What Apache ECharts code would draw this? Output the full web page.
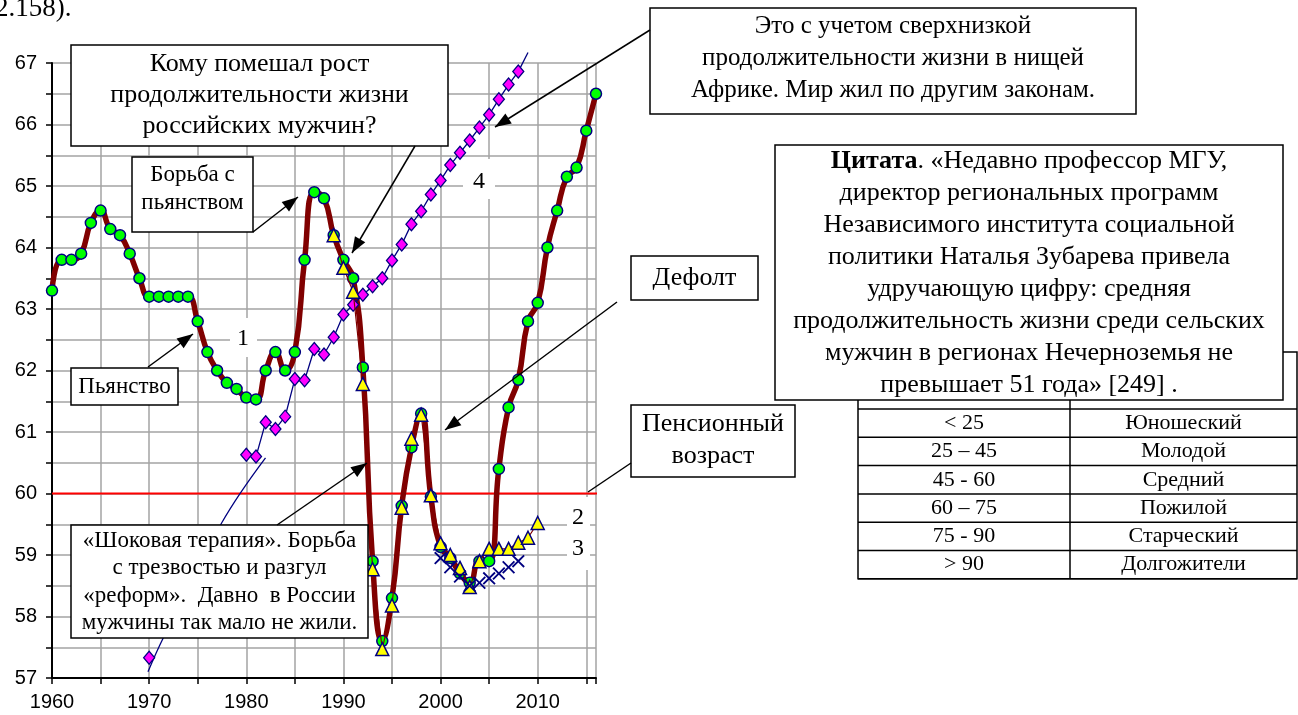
<!DOCTYPE html>
<html><head><meta charset="utf-8">
<script src="https://cdn.jsdelivr.net/npm/echarts@6/dist/echarts.min.js"></script>
<style>html,body{margin:0;padding:0;background:#fff}#c{width:1298px;height:715px}</style>
</head><body><div id="c"></div>
<script>
// ---- data ----
const years1 = [1960,1961,1962,1963,1964,1965,1966,1967,1968,1969,1970,1971,1972,1973,1974,1975,1976,1977,1978,1979,1980,1981,1982,1983,1984,1985,1986,1987,1988,1989,1990,1991,1992,1993,1994,1995,1996,1997,1998,1999,2000,2001,2002,2003,2004,2005,2006,2007,2008,2009,2010,2011,2012,2013,2014,2015,2016];
const maleLife = [63.3,63.8,63.8,63.9,64.4,64.6,64.3,64.2,63.9,63.5,63.2,63.2,63.2,63.2,63.2,62.8,62.3,62.0,61.8,61.7,61.56,61.53,62.0,62.3,62.0,62.3,63.8,64.9,64.8,64.2,63.8,63.5,62.05,58.9,57.6,58.3,59.8,60.75,61.3,59.95,59.13,58.95,58.7,58.55,58.9,58.9,60.4,61.4,61.85,62.8,63.1,64.0,64.6,65.15,65.3,65.9,66.5];
const years2 = [1989,1990,1991,1992,1993,1994,1995,1996,1997,1998,1999,2000,2001,2002,2003,2004,2005,2006,2007,2008,2009,2010];
const series2 = [64.2,63.67,63.28,61.78,58.77,57.47,58.18,59.77,60.89,61.28,59.97,59.19,59.0,58.79,58.48,58.9,59.1,59.1,59.1,59.2,59.28,59.52];
const years3 = [2000,2001,2002,2003,2004,2005,2006,2007,2008];
const series3 = [58.95,58.8,58.65,58.5,58.55,58.62,58.7,58.8,58.9];
const years4 = [1970,1980,1981,1982,1983,1984,1985,1986,1987,1988,1989,1990,1991,1992,1993,1994,1995,1996,1997,1998,1999,2000,2001,2002,2003,2004,2005,2006,2007,2008,2009];
const series4 = [57.33,60.63,60.6,61.16,61.05,61.25,61.86,61.84,62.35,62.26,62.54,62.91,63.07,63.23,63.37,63.5,63.79,64.05,64.38,64.59,64.86,65.09,65.34,65.54,65.74,65.95,66.16,66.41,66.65,66.86,67.17];
const trendYears = [1969.88,1971.45,1977.46,1981.98];
const trendVals = [57.10,57.65,59.52,60.58];
const pensionYears = [1960,2016.4];
const pensionVals = [60,60];
const ageRanges = ['< 25','25 – 45','45 - 60','60 – 75','75 - 90','> 90'];
const ageNames = ['Юношеский','Молодой','Средний','Пожилой','Старческий','Долгожители'];

// ---- texts ----
const tTop = '2.158).';
const tWho = 'Кому помешал рост\nпродолжительности жизни\nроссийских мужчин?';
const tFight = 'Борьба с\nпьянством';
const tDrunk = 'Пьянство';
const tShock = '«Шоковая терапия». Борьба\nс трезвостью и разгул\n«реформ».  Давно  в России\nмужчины так мало не жили.';
const tAfrica = 'Это с учетом сверхнизкой\nпродолжительности жизни в нищей\nАфрике. Мир жил по другим законам.';
const tQuote = '{b|Цитата}. «Недавно профессор МГУ,\nдиректор региональных программ\nНезависимого института социальной\nполитики Наталья Зубарева привела\nудручающую цифру: средняя\nпродолжительность жизни среди сельских\nмужчин в регионах Нечерноземья не\nпревышает 51 года» [249] .';
const tDefault = 'Дефолт';
const tPension = 'Пенсионный\nвозраст';

// ---- helpers ----
const SERIF = '"Liberation Serif","Times New Roman",serif';
function zip(xs, ys){ return xs.map((x,i)=>[x, ys[i]]); }
function box(x,y,w,h){ return {type:'rect', shape:{x:x,y:y,width:w,height:h}, style:{fill:'#fff', stroke:'#000', lineWidth:1.5}, z:100}; }
function wbox(x,y,w,h){ return {type:'rect', shape:{x:x,y:y,width:w,height:h}, style:{fill:'#fff'}, z:100}; }
function txt(x,y,s,size,lh,extra){
  const st = {text:s, font:size+'px '+SERIF, fill:'#000', align:'center', verticalAlign:'middle', textAlign:'center', textVerticalAlign:'middle', lineHeight:lh};
  if (extra) Object.assign(st, extra);
  return {type:'text', x:x, y:y, style:st, z:102};
}
function arrow(x1,y1,x2,y2,head){
  const els=[{type:'line', shape:{x1:x1,y1:y1,x2:x2,y2:y2}, style:{stroke:'#000', lineWidth:1.5}, z:105}];
  if (head){
    const a=Math.atan2(y2-y1,x2-x1), L=16, W=6;
    const bx=x2-L*Math.cos(a), by=y2-L*Math.sin(a), px=-Math.sin(a), py=Math.cos(a);
    els.push({type:'polygon', shape:{points:[[x2,y2],[bx+W*px,by+W*py],[bx-W*px,by-W*py]]}, style:{fill:'#000'}, z:105});
  }
  return els;
}

// ---- graphics ----
const g = [];
g.push(txt(-5,9,tTop,27,30,{align:'left',textAlign:'left'}));
// table
const tL=858, tM=1070, tR=1297, tTopY=352, rowTop=409, rowH=28.3;
g.push({type:'rect', shape:{x:tL,y:tTopY,width:tR-tL,height:rowTop+rowH*6-tTopY}, style:{fill:'#fff',stroke:'#000',lineWidth:1.5}, z:90});
g.push({type:'line', shape:{x1:tM,y1:tTopY,x2:tM,y2:rowTop+rowH*6}, style:{stroke:'#000',lineWidth:1.5}, z:91});
for (let i=0;i<=6;i++) g.push({type:'line', shape:{x1:tL,y1:rowTop+rowH*i,x2:tR,y2:rowTop+rowH*i}, style:{stroke:'#000',lineWidth:1.5}, z:91});
ageRanges.forEach((r,i)=>{
  const t1=txt((tL+tM)/2, rowTop+rowH*(i+0.5), r, 22, 24); t1.z=92; g.push(t1);
  const t2=txt((tM+tR)/2, rowTop+rowH*(i+0.5), ageNames[i], 22, 24); t2.z=92; g.push(t2);
});
// boxes
g.push(box(71,45,377,101)); g.push(txt(259.5,95.5,tWho,26,31));
g.push(box(132,157,121,75)); g.push(txt(192.5,189,tFight,23,28));
g.push(box(71,368,107,37)); g.push(txt(124.5,387,tDrunk,23,28));
g.push(box(71,525,297,113)); g.push(txt(219.5,582,tShock,23,27.5));
g.push(box(650,8,486,106)); g.push(txt(893,58,tAfrica,25,32));
g.push(box(775,145,508,255));
g.push(txt(1029,273,tQuote,26,32,{rich:{b:{font:'bold 26px '+SERIF, lineHeight:32}}}));
g.push(box(631,256,127,44)); g.push(txt(694.5,278,tDefault,26,28));
g.push(box(631,405,164,72)); g.push(txt(713,440,tPension,26,32));
// series labels
g.push(wbox(230,318,27,39)); g.push(txt(243,339,'1',24,28));
g.push(wbox(463,159,32,40)); g.push(txt(479,182,'4',24,28));
g.push(wbox(567,497,23,36)); g.push(txt(578,518,'2',24,28));
g.push(wbox(567,533,23,37)); g.push(txt(578,549,'3',24,28));
// arrows
g.push(...arrow(415,146,352,253,true));
g.push(...arrow(650,30,495,127,true));
g.push(...arrow(253,232,298,197,true));
g.push(...arrow(148,367,193,334,true));
g.push(...arrow(277,525,367,463,true));
g.push(...arrow(617,302,445,430,true));
g.push(...arrow(631,463,588,492,false));

// ---- chart ----
const chart = echarts.init(document.getElementById('c'), null, {renderer:'canvas'});
const NAVY = '#000080';
const s4data = zip(years4, series4);
const s4items = [];
s4data.forEach((p,i)=>{
  if (i===1) s4items.push(null);
  s4items.push(i===s4data.length-1 ? {value:p, symbol:'none'} : p);
});
chart.setOption({
  animation:false,
  backgroundColor:'#fff',
  grid:{left:52, right:702, top:63, bottom:37, containLabel:false},
  xAxis:{type:'value', min:1960, max:2016, interval:5,
    axisLine:{onZero:false, lineStyle:{color:'#000', width:2}},
    axisTick:{show:true, length:6, lineStyle:{color:'#000', width:1.5}},
    axisLabel:{formatter:v=> (v%10===0 ? String(v) : ''), color:'#000', fontFamily:'"Liberation Sans",Arial,sans-serif', fontSize:20, margin:14},
    splitLine:{show:true, lineStyle:{color:'#a3a3a3', width:1.5}}},
  yAxis:{type:'value', min:57, max:67, interval:0.5,
    axisLine:{show:true, onZero:false, lineStyle:{color:'#000', width:2}},
    axisTick:{show:true, length:6, lineStyle:{color:'#000', width:1.5}},
    axisLabel:{formatter:v=> (Math.abs(v-Math.round(v))<1e-9 ? String(Math.round(v)) : ''), color:'#000', fontFamily:'"Liberation Sans",Arial,sans-serif', fontSize:20, margin:15},
    splitLine:{show:true, lineStyle:{color:'#a3a3a3', width:1.5}}},
  graphic:{elements:g},
  series:[
    {type:'line', data:zip(pensionYears,pensionVals), symbol:'none', clip:false, lineStyle:{color:'#ff0000', width:2}, z:2},
    {type:'line', data:zip(trendYears,trendVals), symbol:'none', smooth:0.4, lineStyle:{color:NAVY, width:1.3}, z:3},
    {type:'line', data:zip(years1,maleLife), smooth:0.5, symbol:'circle', symbolSize:11,
      lineStyle:{color:'#800000', width:5.5}, itemStyle:{color:'#00ff00', borderColor:NAVY, borderWidth:1.5}, z:4},
    {type:'line', data:s4items, connectNulls:false, clip:false, symbol:'diamond', symbolSize:[11,13],
      lineStyle:{color:NAVY, width:1.3}, itemStyle:{color:'#ff00ff', borderColor:NAVY, borderWidth:1.3}, z:5},
    {type:'line', data:zip(years2,series2), symbol:'triangle', symbolSize:13,
      lineStyle:{color:'#800000', width:1.2}, itemStyle:{color:'#ffff00', borderColor:NAVY, borderWidth:1.5}, z:6},
    {type:'line', data:zip(years3,series3), symbol:'path://M0,1 L1,0 L5,4 L9,0 L10,1 L6,5 L10,9 L9,10 L5,6 L1,10 L0,9 L4,5 Z', symbolSize:13,
      lineStyle:{width:0, opacity:0}, itemStyle:{color:NAVY}, z:7}
  ]
});
</script></body></html>
